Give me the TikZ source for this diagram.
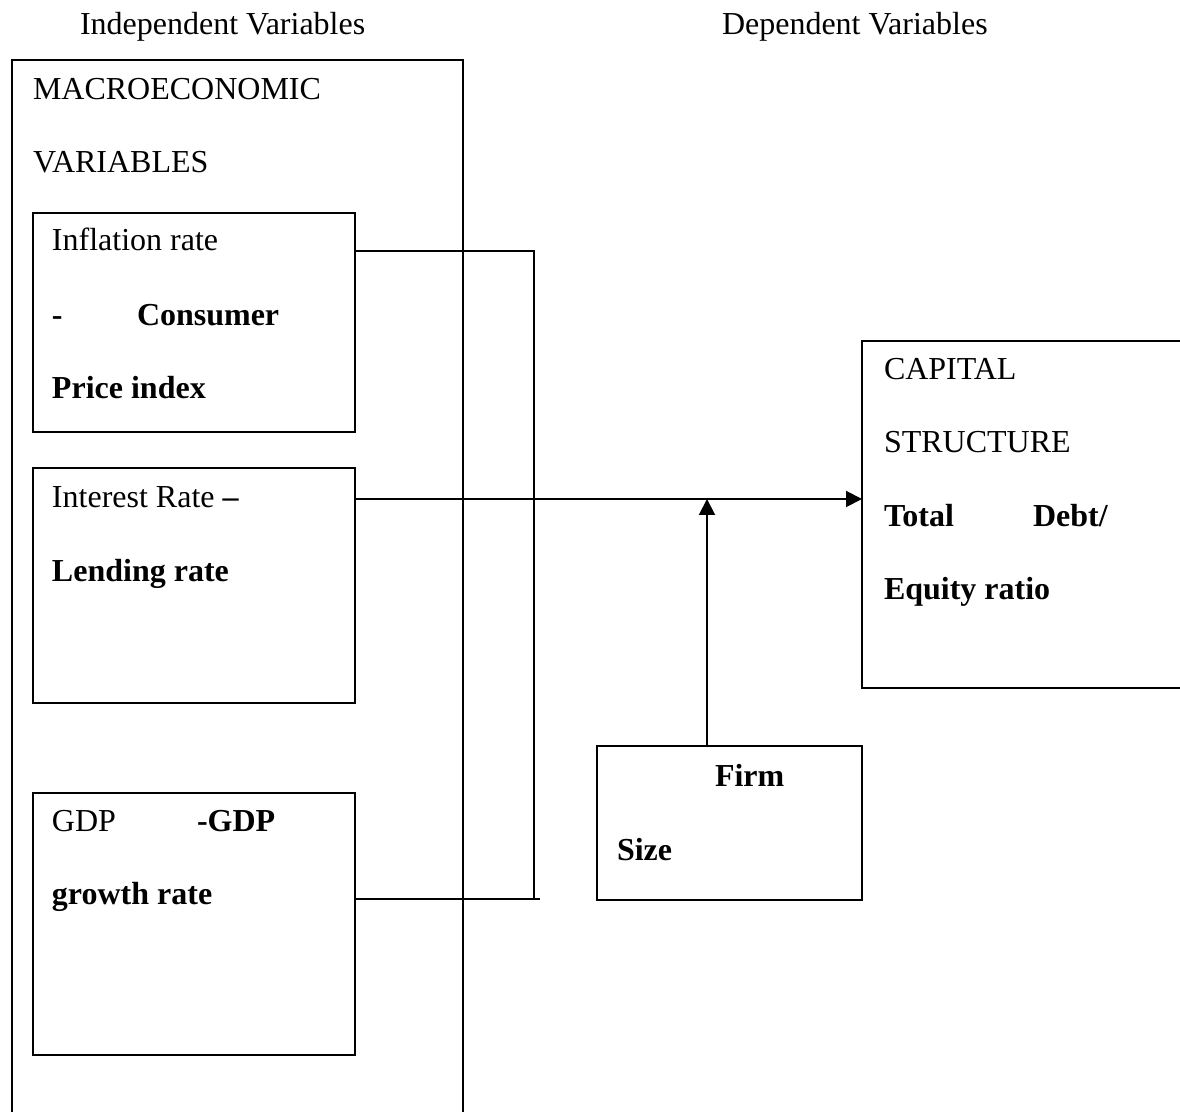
\documentclass[tikz,border=0pt]{standalone}
\usepackage{fontspec}
\setmainfont{Liberation Serif}
\usetikzlibrary{arrows.meta}
\begin{document}
\begin{tikzpicture}[x=0.5pt,y=-0.5pt,
  box/.style={draw, line width=1pt, inner sep=0pt, outer sep=0pt, anchor=north west},
  txt/.style={anchor=base west, inner sep=0pt, outer sep=0pt, font=\fontsize{16}{19}\selectfont},
  btxt/.style={txt, font=\fontsize{16}{19}\selectfont\bfseries},
  conn/.style={line width=1pt},
  arr/.style={line width=1pt, -{Triangle[length=8pt,width=8pt]}}]
\clip (0,0) rectangle (1180,1112);
\fill[white] (0,0) rectangle (1180,1112);
% headings
\node[txt] (hind) at (80,35) {Independent Variables};
\node[txt] (hdep) at (722,35) {Dependent Variables};
% boxes
\node[box, minimum width=225.5pt, minimum height=535pt] (macro) at (12,60) {};
\node[box, minimum width=161pt, minimum height=109.5pt] (infl) at (33,213) {};
\node[box, minimum width=161pt, minimum height=117.5pt] (intr) at (33,468) {};
\node[box, minimum width=161pt, minimum height=131pt] (gdp) at (33,793) {};
\node[box, minimum width=170pt, minimum height=173.5pt] (cap) at (862,341) {};
\node[box, minimum width=132.5pt, minimum height=77pt] (firm) at (597,746) {};
% texts
\node[txt] (m1) at (33,100) {MACROECONOMIC};
\node[txt] (m2) at (33,173) {VARIABLES};
\node[txt] (i1) at (52,251) {Inflation rate};
\node[btxt] (i2a) at (52,326) {-};
\node[btxt] (i2b) at (137,326) {Consumer};
\node[btxt] (i3) at (52,399) {Price index};
\node[txt] (r1) at (52,508) {Interest Rate \textbf{–}};
\node[btxt] (r2) at (52,582) {Lending rate};
\node[txt] (g1a) at (52,832) {GDP};
\node[btxt] (g1b) at (197,832) {-GDP};
\node[btxt] (g2) at (52,905) {growth rate};
\node[txt] (c1) at (884,380) {CAPITAL};
\node[txt] (c2) at (884,453) {STRUCTURE};
\node[btxt] (c3a) at (884,527) {Total};
\node[btxt] (c3b) at (1033,527) {Debt/};
\node[btxt] (c4) at (884,600) {Equity ratio};
\node[btxt] (f1) at (715,787) {Firm};
\node[btxt] (f2) at (617,861) {Size};
% connectors
\coordinate (j1) at (534,251);
\coordinate (j2) at (534,499);
\coordinate (j3) at (534,899);
\coordinate (jend) at (540,899);
\coordinate (fa) at (707,746);
\draw[conn] (infl.east |- j1) -- (j1) -- (j3);
\draw[conn] (gdp.east |- j3) -- (jend);
\draw[arr] (intr.east |- j2) -- (cap.west |- j2);
\draw[arr] (fa) -- (fa |- j2);
\end{tikzpicture}
\end{document}
